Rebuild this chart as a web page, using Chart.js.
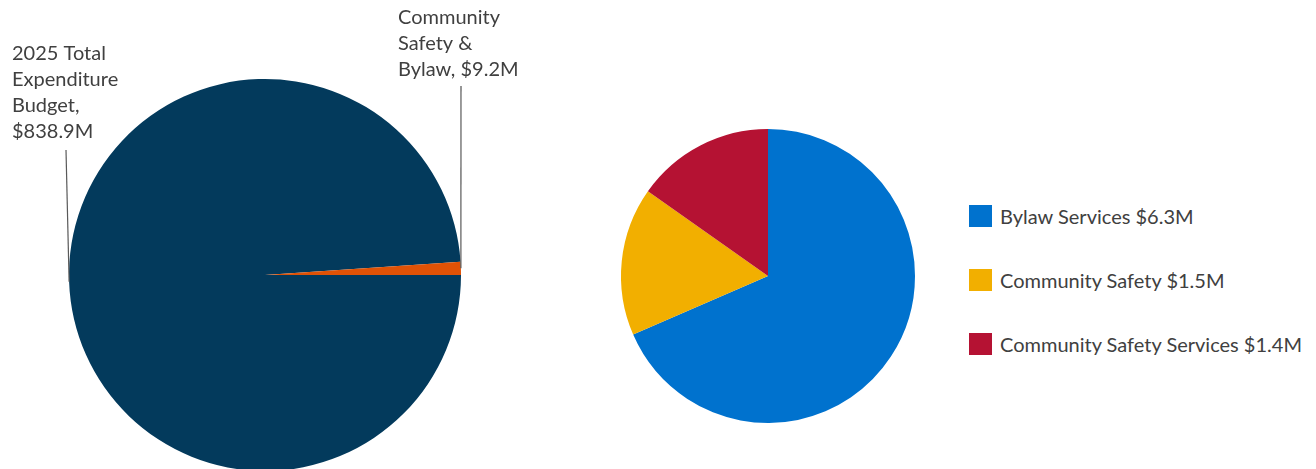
<!DOCTYPE html>
<html>
<head>
<meta charset="utf-8">
<script src="https://cdn.jsdelivr.net/npm/chart.js@4"></script>
<style>
  html, body { margin: 0; padding: 0; width: 1316px; height: 469px; overflow: hidden; background: #fff; }
  .box { position: absolute; }
  #left-box { left: 0; top: 0; width: 560px; height: 480px; }
  #right-box { left: 560px; top: 0; width: 400px; height: 469px; }
  #legend { position: absolute; left: 969px; top: 205px; font-family: Lato, "Open Sans", sans-serif; font-size: 20px; color: #404040; }
  .legend-item { display: flex; align-items: center; height: 22px; margin-bottom: 42px; white-space: nowrap; }
  .legend-swatch { width: 23px; height: 22px; margin-right: 8px; }
</style>
</head>
<body>
<div class="box" id="left-box"><canvas id="total-canvas"></canvas></div>
<div class="box" id="right-box"><canvas id="split-canvas"></canvas></div>
<div id="legend"></div>
<script>
// left pie: whole budget vs community safety & bylaw
const totalLabels = [['2025 Total', 'Expenditure', 'Budget,', '$838.9M'], ['Community', 'Safety &', 'Bylaw, $9.2M']];
const totalValues = [838.9, 9.2];
const totalColors = ['#033a5c', '#e05206'];

// right pie: breakdown of the $9.2M
const splitLabels = ['Bylaw Services $6.3M', 'Community Safety $1.5M', 'Community Safety Services $1.4M'];
const splitValues = [6.3, 1.5, 1.4];
const splitColors = ['#0072ce', '#f2af00', '#b51233'];

// where each callout text sits (top-left of first line) and where its leader starts
const calloutSpots = [
  { x: 12, y: 44, lineX: 66, lineY: 150 },
  { x: 398, y: 8, lineX: 461, lineY: 86 }
];

// draws the callout labels with leader lines to the middle of each slice edge
const calloutPlugin = {
  id: 'callouts',
  afterDraw(chart) {
    const ctx = chart.ctx;
    const meta = chart.getDatasetMeta(0);
    ctx.save();
    ctx.font = '20px Lato, "Open Sans", sans-serif';
    ctx.fillStyle = '#404040';
    ctx.textBaseline = 'top';
    meta.data.forEach((arc, i) => {
      const spot = calloutSpots[i];
      const lines = chart.data.labels[i];
      lines.forEach((t, j) => ctx.fillText(t, spot.x, spot.y + j * 26));
      const mid = (arc.startAngle + arc.endAngle) / 2;
      const ex = arc.x + arc.outerRadius * Math.cos(mid);
      const ey = arc.y + arc.outerRadius * Math.sin(mid);
      ctx.strokeStyle = '#595959';
      ctx.lineWidth = 1.2;
      ctx.beginPath();
      ctx.moveTo(spot.lineX, spot.lineY);
      ctx.lineTo(ex, ey);
      ctx.stroke();
    });
    ctx.restore();
  }
};

new Chart(document.getElementById('total-canvas'), {
  type: 'pie',
  data: {
    labels: totalLabels,
    datasets: [{ data: totalValues, backgroundColor: totalColors, borderWidth: 0 }]
  },
  options: {
    responsive: true,
    maintainAspectRatio: false,
    animation: false,
    rotation: 90,
    layout: { padding: { left: 69, right: 99, top: 79, bottom: 9 } },
    plugins: { legend: { display: false }, tooltip: { enabled: false } }
  },
  plugins: [calloutPlugin]
});

new Chart(document.getElementById('split-canvas'), {
  type: 'pie',
  data: {
    labels: splitLabels,
    datasets: [{ data: splitValues, backgroundColor: splitColors, borderWidth: 0 }]
  },
  options: {
    responsive: true,
    maintainAspectRatio: false,
    animation: false,
    layout: { padding: { left: 61, right: 45, top: 129, bottom: 46 } },
    plugins: { legend: { display: false }, tooltip: { enabled: false } }
  }
});

// legend for the right pie
const legendDiv = document.getElementById('legend');
splitLabels.forEach((label, i) => {
  const item = document.createElement('div');
  item.className = 'legend-item';
  const sw = document.createElement('span');
  sw.className = 'legend-swatch';
  sw.style.background = splitColors[i];
  const txt = document.createElement('span');
  txt.textContent = label;
  item.appendChild(sw);
  item.appendChild(txt);
  legendDiv.appendChild(item);
});
</script>
</body>
</html>
